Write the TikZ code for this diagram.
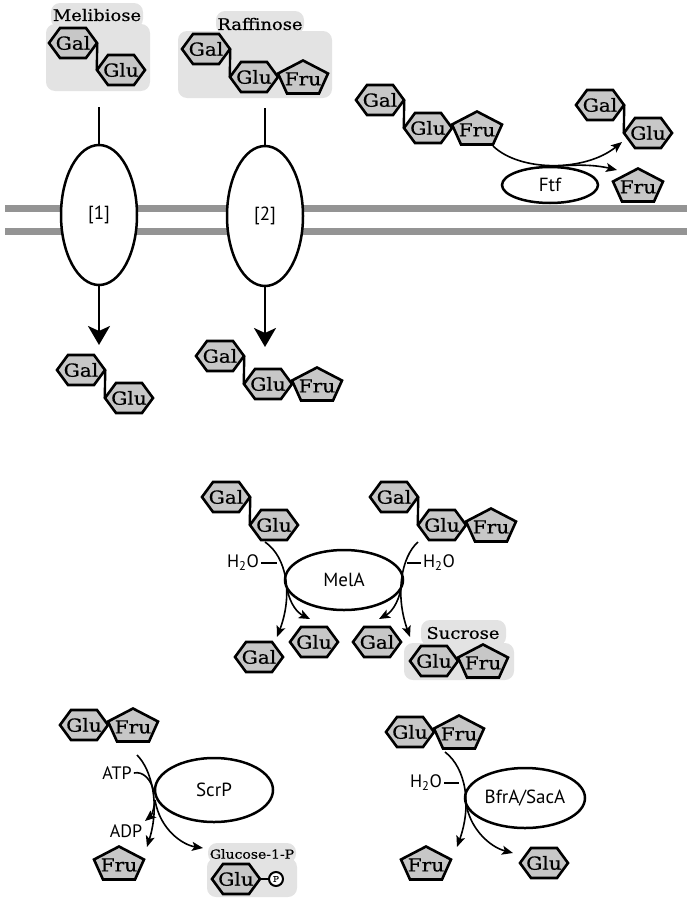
\documentclass[tikz,border=0pt]{standalone}
\usepackage{fontspec}
\usepackage{tikz}
\usetikzlibrary{positioning,calc,shapes.geometric,arrows.meta}

\newfontfamily\sugarfont[FakeStretch=1.12,FakeBold=0.6]{DejaVu Serif}
\newfontfamily\enzfont{PT Sans}

\tikzset{
  sugarshape/.style={draw=black,fill=black!22,line width=2.6pt,line join=miter},
  sugar/.style={inner sep=0pt,minimum width=48pt,minimum height=30pt,font=\sugarfont\fontsize{18}{18}\selectfont},
  pentsugar/.style={sugar,minimum width=50pt,minimum height=33pt,yshift=-2pt},
  bond/.style={line width=2.4pt},
  groupbg/.style={fill=black!11,rounded corners=9pt},
  grouplabel/.style={inner sep=0pt,font=\sugarfont\fontsize{16}{16}\selectfont},
  enzyme/.style={ellipse,draw,fill=white,line width=2.5pt,inner sep=0pt,font=\enzfont\fontsize{19}{19}\selectfont},
  transporter/.style={enzyme,minimum width=76pt,minimum height=140pt},
  membrane/.style={draw=black!42,line width=7pt},
  react/.style={line width=1.6pt,-{Stealth[length=11pt,width=9pt,inset=2.5pt]}},
  reactline/.style={line width=1.6pt},
  uptake/.style={line width=2.5pt,-{Stealth[length=19pt,width=22pt,inset=5pt]}},
  small/.style={inner sep=2pt,font=\enzfont\fontsize{18}{18}\selectfont},
  phos/.style={circle,draw,fill=white,line width=2pt,inner sep=0pt,minimum size=14pt,font=\sugarfont\fontsize{8}{8}\selectfont},
}

% hexagon (Gal, Glu) and pentagon (Fru)
\newcommand{\hexsugar}[3]{%
  \draw[sugarshape] ($(#2)+(-24,0)$) -- ++(11,-15) -- ++(26,0) -- ++(11,15) -- ++(-11,15) -- ++(-26,0) -- cycle;
  \node[sugar] (#1) at (#2) {#3};}
\newcommand{\pentsugar}[3]{%
  \draw[sugarshape] ($(#2)+(0,-16.5)$) -- ++(25,13) -- ++(-9,20) -- ++(-32,0) -- ++(-9,-20) -- cycle;
  \node[pentsugar] (#1) at (#2) {#3};}

\begin{document}
\begin{tikzpicture}[x=1pt,y=-1pt]
\useasboundingbox (0,0) rectangle (687,902);

% membrane
\draw[membrane] (5,208.5) -- (687,208.5);
\draw[membrane] (5,231.5) -- (687,231.5);

% transporters
\node[transporter] (tp1) at (99,215) {[1]};
\node[transporter] (tp2) at (265,216) {[2]};
\coordinate (tp1in) at (99,107);
\coordinate (tp2in) at (265,108);
\coordinate (tp1out) at (99,345);
\coordinate (tp2out) at (265,347);
\draw[bond] (tp1in) -- (tp1);
\draw[bond] (tp2in) -- (tp2);
\draw[uptake] (tp1) -- (tp1out);
\draw[uptake] (tp2) -- (tp2out);

% melibiose
\fill[groupbg] (46,24) rectangle (150,91);
\fill[groupbg] (51,3) rectangle (143,28);
\node[grouplabel] (mellabel) at (97,15) {Melibiose};
\hexsugar{melGal}{73,43}{Gal}
\hexsugar{melGlu}{121,70}{Glu}
\draw[bond] (melGal.east) -- (melGlu.west);

% raffinose
\fill[groupbg] (178,31) rectangle (332,98);
\fill[groupbg] (216,11) rectangle (304,34);
\node[grouplabel] (raflabel) at (260,24) {Raffinose};
\hexsugar{rafGal}{206,49}{Gal}
\hexsugar{rafGlu}{254,77}{Glu}
\pentsugar{rafFru}{303,77}{Fru}
\draw[bond] (rafGal.east) -- (rafGlu.west);

% inside, after uptake
\hexsugar{p1Gal}{81,370}{Gal}
\hexsugar{p1Glu}{129,398}{Glu}
\draw[bond] (p1Gal.east) -- (p1Glu.west);
\hexsugar{p2Gal}{220,356}{Gal}
\hexsugar{p2Glu}{268,384}{Glu}
\pentsugar{p2Fru}{317,384}{Fru}
\draw[bond] (p2Gal.east) -- (p2Glu.west);

% Ftf
\node[enzyme,minimum width=96pt,minimum height=36pt] (ftf) at (550,185) {Ftf};
\hexsugar{fGal}{380,100}{Gal}
\hexsugar{fGlu}{428,128}{Glu}
\pentsugar{fFru}{477,128}{Fru}
\draw[bond] (fGal.east) -- (fGlu.west);
\hexsugar{fpGal}{600,105}{Gal}
\hexsugar{fpGlu}{648,133}{Glu}
\draw[bond] (fpGal.east) -- (fpGlu.west);
\pentsugar{fpFru}{638,185}{Fru}
\coordinate (ftfin) at (493,146);
\coordinate (ftfsplit) at (560,166);
\coordinate (ftfout1) at (622,142);
\coordinate (ftfout2) at (617,170);
\draw[react] (ftfin) .. controls (520,172) and (585,172) .. (ftfout1);
\draw[react] (ftfsplit) .. controls (585,164) and (600,166) .. (ftfout2);

% MelA
\node[enzyme,minimum width=118pt,minimum height=60pt] (mela) at (344,580) {MelA};
\hexsugar{mGal1}{226,497}{Gal}
\hexsugar{mGlu1}{274,525}{Glu}
\draw[bond] (mGal1.east) -- (mGlu1.west);
\hexsugar{mGal2}{394,497}{Gal}
\hexsugar{mGlu2}{442,525}{Glu}
\pentsugar{mFru2}{491,525}{Fru}
\draw[bond] (mGal2.east) -- (mGlu2.west);
\hexsugar{mpGal1}{259,657}{Gal}
\hexsugar{mpGlu1}{314,642}{Glu}
\hexsugar{mpGal2}{377,642}{Gal}
\fill[groupbg] (404,643) rectangle (514,680);
\fill[groupbg] (421,620) rectangle (506,646);
\node[grouplabel] (suclabel) at (463,633) {Sucrose};
\hexsugar{sucGlu}{434,661}{Glu}
\pentsugar{sucFru}{483,661}{Fru}
\coordinate (melaL) at (265,542);
\coordinate (melaLsplit) at (287,588);
\coordinate (melaLgal) at (277,637);
\coordinate (melaLglu) at (310,619);
\draw[react] (melaL) .. controls (287,557) and (293,595) .. (melaLgal);
\draw[react] (melaLsplit) .. controls (290,605) and (298,613) .. (melaLglu);
\node[small] (h2oL) at (243,563) {H\textsubscript{2}O};
\draw[reactline] (h2oL.east) -- ++(16,0);
\coordinate (melaR) at (418,542);
\coordinate (melaRsplit) at (401,588);
\coordinate (melaRgal) at (379,619);
\coordinate (melaRsuc) at (410,637);
\draw[react] (melaR) .. controls (401,557) and (395,595) .. (melaRsuc);
\draw[react] (melaRsplit) .. controls (398,605) and (390,613) .. (melaRgal);
\node[small] (h2oR) at (439,563) {H\textsubscript{2}O};
\draw[reactline] (h2oR.west) -- ++(-14,0);

% ScrP
\node[enzyme,minimum width=118pt,minimum height=64pt] (scrp) at (214,790) {ScrP};
\hexsugar{sGlu}{84,725}{Glu}
\pentsugar{sFru}{133,725}{Fru}
\pentsugar{spFru}{119,863}{Fru}
\fill[groupbg] (207,858) rectangle (297,897);
\fill[groupbg] (208,843) rectangle (296,863);
\node[grouplabel,font=\sugarfont\fontsize{12.5}{12.5}\selectfont] (g1plabel) at (252,854) {Glucose-1-P};
\hexsugar{g1pGlu}{236,879}{Glu}
\node[phos] (g1pP) at (276,879) {P};
\draw[bond] (g1pGlu.east) -- (g1pP);
\coordinate (scrpin) at (137,755);
\coordinate (scrpsplit) at (155,800);
\coordinate (scrpfru) at (147,847);
\coordinate (scrpadp) at (145,821);
\coordinate (scrpg1p) at (203,848);
\node[small] (atp) at (117,773) {ATP};
\node[small] (adp) at (126,831) {ADP};
\draw[react] (scrpin) .. controls (152,770) and (160,805) .. (scrpfru);
\draw[reactline] (atp.east) .. controls (143,771) and (151,779) .. (154,792);
\draw[react] (scrpsplit) .. controls (154,810) and (151,816) .. (scrpadp);
\draw[react] (scrpsplit) .. controls (160,830) and (183,845) .. (scrpg1p);

% BfrA/SacA
\node[enzyme,minimum width=120pt,minimum height=60pt] (bfra) at (525,798) {BfrA/SacA};
\hexsugar{bGlu}{410,732}{Glu}
\pentsugar{bFru}{459,732}{Fru}
\pentsugar{bpFru}{426,863}{Fru}
\hexsugar{bpGlu}{544,863}{Glu}
\coordinate (bfrain) at (445,752);
\coordinate (bfrasplit) at (467,808);
\coordinate (bfrafru) at (457,847);
\coordinate (bfraglu) at (513,853);
\draw[react] (bfrain) .. controls (466,768) and (472,805) .. (bfrafru);
\draw[react] (bfrasplit) .. controls (472,830) and (490,847) .. (bfraglu);
\node[small] (h2oB) at (426,783) {H\textsubscript{2}O};
\draw[reactline] (h2oB.east) -- ++(15,0);
\end{tikzpicture}
\end{document}
